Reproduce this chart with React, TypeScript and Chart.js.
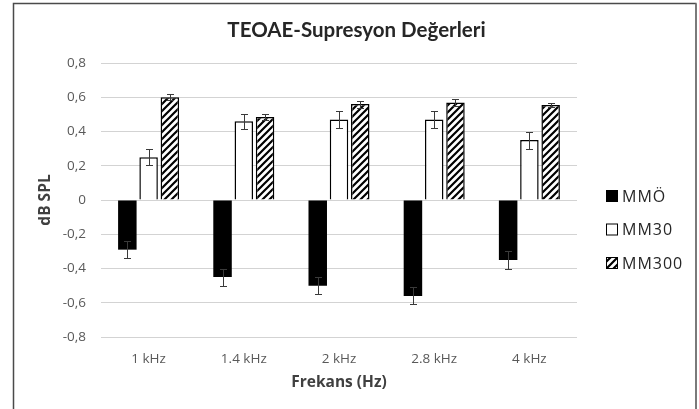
import { useEffect, useRef } from 'react';
import { Chart, registerables } from 'chart.js';

Chart.register(...registerables);

const categories = ['1 kHz', '1.4 kHz', '2 kHz', '2.8 kHz', '4 kHz'];
const seriesNames = ['MMÖ', 'MM30', 'MM300'];
const mmoValues = [-0.29, -0.45, -0.5, -0.56, -0.35];
const mmoErrors = [0.05, 0.05, 0.048, 0.05, 0.05];
const mm30Values = [0.25, 0.46, 0.47, 0.47, 0.35];
const mm30Errors = [0.045, 0.043, 0.05, 0.047, 0.05];
const mm300Values = [0.6, 0.485, 0.56, 0.57, 0.555];
const mm300Errors = [0.018, 0.02, 0.02, 0.02, 0.012];
const yMin = -0.8;
const yMax = 0.8;
const yStep = 0.2;
const chartTitle = 'TEOAE-Supresyon Değerleri';
const xTitle = 'Frekans (Hz)';
const yTitle = 'dB SPL';

const errorSets = [mmoErrors, mm30Errors, mm300Errors];

function makeHatch(): CanvasPattern | string {
  const s = 7;
  const c = document.createElement('canvas');
  c.width = s;
  c.height = s;
  const g = c.getContext('2d');
  if (!g) return '#888';
  g.fillStyle = '#ffffff';
  g.fillRect(0, 0, s, s);
  g.strokeStyle = '#000000';
  g.lineWidth = 2.2;
  g.beginPath();
  g.moveTo(-1, s + 1);
  g.lineTo(s + 1, -1);
  g.moveTo(-1, 1);
  g.lineTo(1, -1);
  g.moveTo(s - 1, s + 1);
  g.lineTo(s + 1, s - 1);
  g.stroke();
  return g.createPattern(c, 'repeat') || '#888';
}

const framePlugin = {
  id: 'frame',
  beforeDraw(chart: any) {
    const ctx = chart.ctx;
    ctx.save();
    ctx.fillStyle = '#ffffff';
    ctx.fillRect(0, 0, chart.width, chart.height);
    ctx.lineWidth = 1.5;
    ctx.strokeStyle = '#4a4a4a';
    ctx.beginPath();
    ctx.moveTo(13.5, chart.height + 2);
    ctx.lineTo(13.5, 3.5);
    ctx.lineTo(696.5, 3.5);
    ctx.stroke();
    ctx.strokeStyle = '#7a7a7a';
    ctx.lineWidth = 2;
    ctx.beginPath();
    ctx.moveTo(696, 3.5);
    ctx.lineTo(696, chart.height + 2);
    ctx.stroke();
    ctx.restore();
  },
};

const errorBarPlugin = {
  id: 'errorBars',
  afterDatasetsDraw(chart: any) {
    const ctx = chart.ctx;
    const yScale = chart.scales.y;
    ctx.save();
    ctx.strokeStyle = '#3a3a3a';
    ctx.lineWidth = 1;
    chart.data.datasets.forEach((ds: any, i: number) => {
      const meta = chart.getDatasetMeta(i);
      const errs = errorSets[i];
      meta.data.forEach((bar: any, j: number) => {
        const v = ds.data[j] as number;
        const e = errs[j];
        const yTop = Math.round(yScale.getPixelForValue(v + e)) + 0.5;
        const yBot = Math.round(yScale.getPixelForValue(v - e)) + 0.5;
        const x = Math.round(bar.x) + 0.5;
        ctx.beginPath();
        ctx.moveTo(x, yTop);
        ctx.lineTo(x, yBot);
        ctx.moveTo(x - 3.5, yTop);
        ctx.lineTo(x + 3.5, yTop);
        ctx.moveTo(x - 3.5, yBot);
        ctx.lineTo(x + 3.5, yBot);
        ctx.stroke();
      });
    });
    ctx.restore();
  },
};

const legendPlugin = {
  id: 'sideLegend',
  afterDraw(chart: any) {
    const ctx = chart.ctx;
    ctx.save();
    const x0 = 606;
    const yStart = 196;
    const gap = 33.5;
    const box = 12;
    chart.data.datasets.forEach((ds: any, i: number) => {
      const cy = yStart + i * gap;
      ctx.fillStyle = ds.backgroundColor;
      ctx.fillRect(x0, cy - box / 2, box, box);
      ctx.strokeStyle = '#000000';
      ctx.lineWidth = 1;
      ctx.strokeRect(x0 + 0.5, cy - box / 2 + 0.5, box - 1, box - 1);
      ctx.fillStyle = '#262626';
      ctx.font = '16px "Open Sans"';
      (ctx as any).letterSpacing = '1px';
      ctx.textAlign = 'left';
      ctx.textBaseline = 'middle';
      ctx.fillText(ds.label, x0 + box + 4, cy + 1);
    });
    ctx.restore();
  },
};

export default function App() {
  const canvasRef = useRef<HTMLCanvasElement | null>(null);

  useEffect(() => {
    const canvas = canvasRef.current;
    if (!canvas) return;
    const hatch = makeHatch();
    const chart = new Chart(canvas, {
      type: 'bar',
      data: {
        labels: categories,
        datasets: [
          {
            label: seriesNames[0],
            data: mmoValues,
            backgroundColor: '#000000',
            borderColor: '#000000',
            borderWidth: 0,
            yAxisID: 'y',
          },
          {
            label: seriesNames[1],
            data: mm30Values,
            backgroundColor: '#ffffff',
            borderColor: '#000000',
            borderWidth: 1.5,
            yAxisID: 'y',
          },
          {
            label: seriesNames[2],
            data: mm300Values,
            backgroundColor: hatch as any,
            borderColor: '#000000',
            borderWidth: 1.5,
            yAxisID: 'y',
          },
        ],
      },
      options: {
        animation: false,
        responsive: false,
        devicePixelRatio: 1,
        layout: { padding: { left: 14, right: 0, top: 0, bottom: 0 } },
        datasets: {
          bar: { categoryPercentage: 0.67, barPercentage: 0.87 },
        },
        plugins: {
          legend: { display: false },
          tooltip: { enabled: false },
          title: {
            display: true,
            text: chartTitle,
            color: '#262626',
            font: { family: 'Lato', size: 20.5, weight: 'bold' },
            padding: { top: 18, bottom: 20.4 },
          },
        },
        scales: {
          x: {
            grid: { display: false, drawTicks: false },
            border: { display: false },
            ticks: {
              color: '#595959',
              font: { family: 'Open Sans', size: 13.5 },
              padding: 14,
            },
            title: {
              display: true,
              text: xTitle,
              color: '#404040',
              font: { family: 'Open Sans', size: 15.5, weight: 'bold' },
              padding: { top: 0, bottom: 17 },
            },
            afterFit: (s: any) => {
              s.height = 72;
            },
          },
          y: {
            min: yMin,
            max: yMax,
            grid: { color: '#d3d3d3', lineWidth: 1, drawTicks: false },
            border: { display: false },
            ticks: {
              stepSize: yStep,
              color: '#595959',
              font: { family: 'Open Sans', size: 13.5 },
              padding: 15,
              callback: (v: any) => {
                const n = Number(v);
                if (Math.abs(n) < 1e-9) return '0';
                return n.toFixed(1).replace('.', ',');
              },
            },
            title: {
              display: true,
              text: yTitle,
              color: '#404040',
              font: { family: 'Open Sans', size: 15.5, weight: 'bold' },
              padding: { top: 22, bottom: 0 },
            },
            afterFit: (s: any) => {
              s.width = 87;
            },
          },
          yR: {
            type: 'linear',
            position: 'right',
            display: true,
            grid: { display: false, drawTicks: false },
            border: { display: false },
            ticks: { display: false },
            afterFit: (s: any) => {
              s.width = 122;
            },
          },
        },
      } as any,
      plugins: [framePlugin, errorBarPlugin, legendPlugin],
    });
    return () => chart.destroy();
  }, []);

  return (
    <div style={{ position: 'fixed', left: 0, top: 0, width: 699, height: 409 }}>
      <canvas ref={canvasRef} width={699} height={409} style={{ display: 'block' }} />
    </div>
  );
}
